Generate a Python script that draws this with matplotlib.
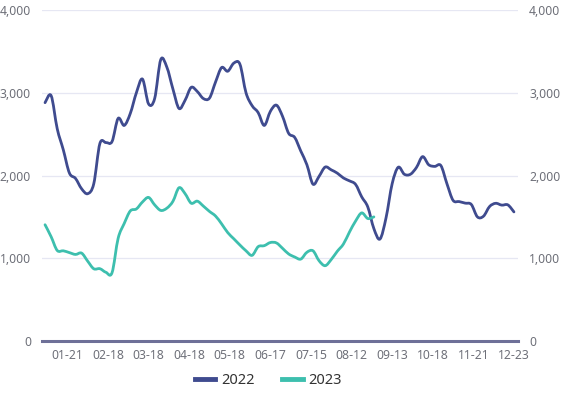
import matplotlib
matplotlib.use("Agg")
import matplotlib.pyplot as plt
from matplotlib.path import Path
from matplotlib.patches import PathPatch
from matplotlib.lines import Line2D
import numpy as np

# ---- data (values every 3 trading days) ----
series_2022 = [2880, 2965, 2565, 2310, 2030, 1965, 1840, 1780, 1900, 2385,
               2398, 2410, 2690, 2605, 2750, 3000, 3165, 2865, 2930, 3400,
               3310, 3045, 2810, 2910, 3065, 3015, 2930, 2935, 3130, 3305,
               3260, 3358, 3345, 3000, 2844, 2760, 2605, 2775, 2850, 2715,
               2510, 2460, 2295, 2130, 1895, 1990, 2102, 2068, 2028, 1970,
               1935, 1892, 1742, 1620, 1358, 1232, 1490, 1900, 2100, 2015,
               2015, 2098, 2228, 2130, 2110, 2120, 1900, 1700, 1685, 1666,
               1650, 1500, 1508, 1625, 1664, 1642, 1645, 1560]
series_2023 = [1405, 1260, 1094, 1090, 1068, 1046, 1062, 965, 873, 874,
               830, 825, 1240, 1420, 1572, 1596, 1680, 1735, 1645, 1578,
               1605, 1688, 1852, 1780, 1665, 1690, 1630, 1566, 1510, 1415,
               1310, 1235, 1160, 1090, 1035, 1140, 1152, 1190, 1185, 1120,
               1052, 1015, 990, 1072, 1090, 970, 910, 985, 1085, 1172,
               1318, 1450, 1548, 1480, 1500]
tick_labels = ["01-21", "02-18", "03-18", "04-18", "05-18", "06-17",
               "07-15", "08-12", "09-13", "10-18", "11-21", "12-23"]
y_ticks = [0, 1000, 2000, 3000, 4000]
legend_names = ["2022", "2023"]

step = 3          # trading days between stored values
first_tick = 11   # trading-day index of first label
tick_every = 20

c22 = "#3f4b8f"
c23 = "#3dbfae"
label_color = "#6e7079"

plt.rcParams['font.family'] = ['Noto Sans', 'DejaVu Sans']


def smooth_path(x, y):
    """Catmull-Rom style cubic Bezier path through the points (line smoothing)."""
    x = np.asarray(x, float)
    y = np.asarray(y, float)
    pts = np.column_stack([x, y])
    n = len(pts)
    verts = [pts[0]]
    codes = [Path.MOVETO]
    for i in range(n - 1):
        p0 = pts[max(i - 1, 0)]
        p1 = pts[i]
        p2 = pts[i + 1]
        p3 = pts[min(i + 2, n - 1)]
        c1 = p1 + (p2 - p0) / 6.0
        c2 = p2 - (p3 - p1) / 6.0
        verts += [c1, c2, p2]
        codes += [Path.CURVE4] * 3
    return Path(verts, codes)


fig = plt.figure(figsize=(5.64, 3.95), dpi=100)
ax = fig.add_axes([42/564, 1-341/395, (518-42)/564, (341-10)/395])

x22 = np.arange(len(series_2022)) * step
x23 = np.arange(len(series_2023)) * step
ax.add_patch(PathPatch(smooth_path(x22, series_2022), facecolor='none',
                       edgecolor=c22, lw=2.0, zorder=3, joinstyle='round', capstyle='round'))
ax.add_patch(PathPatch(smooth_path(x23, series_2023), facecolor='none',
                       edgecolor=c23, lw=2.0, zorder=3, joinstyle='round', capstyle='round'))

ax.set_xlim(-1.5, 233)
ax.set_ylim(0, 4000)
ax.set_yticks(y_ticks)
ax.set_yticklabels([f"{v:,}" for v in y_ticks])
ax.set_xticks([first_tick + tick_every*i for i in range(len(tick_labels))])
ax.set_xticklabels(tick_labels)

for v in y_ticks[1:]:
    ax.axhline(v, color="#e6e7f3", lw=0.9, zorder=1)
ax.axhline(0, color="#6e7098", lw=2.2, zorder=2, clip_on=False)

for s in ax.spines.values():
    s.set_visible(False)
ax.tick_params(axis='both', length=0, colors=label_color, labelsize=8.8)
ax.tick_params(axis='x', pad=6)
ax.tick_params(axis='y', pad=8)

ax2 = ax.twinx()
ax2.set_ylim(0, 4000)
ax2.set_yticks(y_ticks)
ax2.set_yticklabels([f"{v:,}" for v in y_ticks])
for s in ax2.spines.values():
    s.set_visible(False)
ax2.tick_params(axis='y', length=0, colors=label_color, labelsize=8.8, pad=8)

handles = [Line2D([], [], color=c22, lw=3.5), Line2D([], [], color=c23, lw=3.5)]
fig.legend(handles, legend_names, loc='center', bbox_to_anchor=(268.5/564, 1-381/395),
           ncol=2, frameon=False, fontsize=10.5, handlelength=1.4, handletextpad=0.4,
           columnspacing=1.9, labelcolor="#333333")

fig.savefig("out.png", dpi=100)
